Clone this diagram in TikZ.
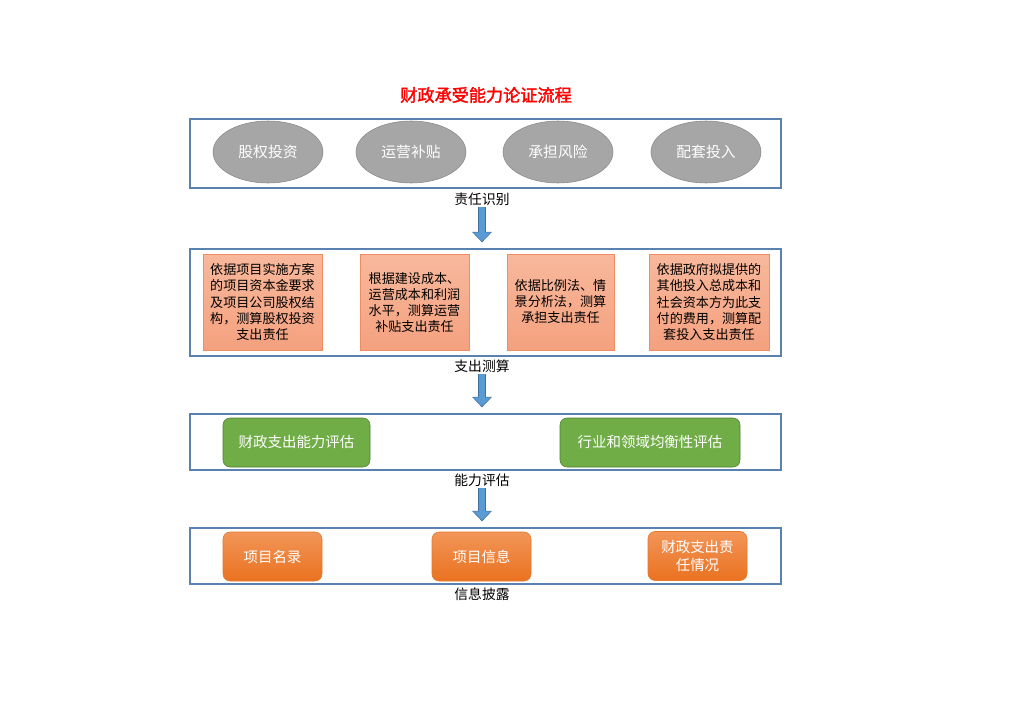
\documentclass[tikz,border=0pt]{standalone}
\usepackage{fontspec}
\setmainfont{Noto Sans CJK SC}[AutoFakeBold=2]
\usetikzlibrary{shapes.geometric,arrows.meta}
\definecolor{framec}{HTML}{5A82B0}
\definecolor{ovalfill}{HTML}{A6A6A6}
\definecolor{ovaledge}{HTML}{8A8A8A}
\definecolor{salmontop}{HTML}{F8B89C}
\definecolor{salmonbot}{HTML}{F4A17F}
\definecolor{salmonedge}{HTML}{F08C60}
\definecolor{greenfill}{HTML}{70AD47}
\definecolor{greenedge}{HTML}{4E7F30}
\definecolor{orangetop}{HTML}{F29558}
\definecolor{orangebot}{HTML}{EA7220}
\definecolor{orangeedge}{HTML}{E0782F}
\definecolor{arrowfill}{HTML}{5B9BD5}
\definecolor{arrowedge}{HTML}{41719C}
\tikzset{
  stage/.style={draw=framec, line width=0.9pt, rectangle, minimum width=14.775cm},
  duty/.style={draw=ovaledge, fill=ovalfill, ellipse, minimum width=2.75cm, minimum height=1.55cm, text=white, font=\fontsize{10.5pt}{12pt}\selectfont},
  calc/.style={draw=salmonedge, top color=salmontop, bottom color=salmonbot, rectangle, minimum height=2.4cm, align=center, inner sep=2pt, font=\fontsize{9.3pt}{11.4pt}\selectfont},
  assess/.style={draw=greenedge, fill=greenfill, rounded corners=5pt, minimum height=1.225cm, text=white, font=\fontsize{10.3pt}{12pt}\selectfont},
  disclose/.style={draw=orangeedge, top color=orangetop, bottom color=orangebot, rounded corners=5pt, minimum width=2.475cm, minimum height=1.225cm, align=center, text=white, font=\fontsize{10.3pt}{12.5pt}\selectfont},
  caption/.style={font=\fontsize{9.8pt}{11pt}\selectfont, inner sep=1pt},
  flow/.style={draw=arrowfill, line width=0.15cm, shorten >=0.18cm, -{Triangle[width=0.42cm,length=0.22cm]},
    preaction={draw=arrowedge, line width=0.19cm, shorten >=0.15cm, -{Triangle[width=0.48cm,length=0.26cm]}}}
}
\begin{document}
\begin{tikzpicture}
\useasboundingbox[fill=white] (0,0) rectangle (25.6,-18.1);
\node[text=red, font=\fontsize{12.2pt}{14pt}\selectfont\bfseries] (title) at (12.15,-2.375) {财政承受能力论证流程};

\node[stage, minimum height=1.725cm] (f1) at (12.1375,-3.8375) {};
\node[duty] (d1) at (6.7,-3.8) {股权投资};
\node[duty] (d2) at (10.275,-3.8) {运营补贴};
\node[duty] (d3) at (13.95,-3.8) {承担风险};
\node[duty] (d4) at (17.65,-3.8) {配套投入};
\node[caption] (l1) at (12.05,-4.975) {责任识别};

\node[stage, minimum height=2.675cm] (f2) at (12.1375,-7.5625) {};
\node[calc, minimum width=2.975cm] (c1) at (6.5625,-7.55) {依据项目实施方案\\的项目资本金要求\\及项目公司股权结\\构，测算股权投资\\支出责任};
\node[calc, minimum width=2.725cm] (c2) at (10.3625,-7.5625) {根据建设成本、\\运营成本和利润\\水平，测算运营\\补贴支出责任};
\node[calc, minimum width=2.675cm] (c3) at (14.0125,-7.55) {依据比例法、情\\景分析法，测算\\承担支出责任};
\node[calc, minimum width=3.0cm] (c4) at (17.725,-7.55) {依据政府拟提供的\\其他投入总成本和\\社会资本方为此支\\付的费用，测算配\\套投入支出责任};
\node[caption] (l2) at (12.05,-9.15) {支出测算};

\node[stage, minimum height=1.4cm] (f3) at (12.1375,-11.05) {};
\node[assess, minimum width=3.675cm] (a1) at (7.4125,-11.0625) {财政支出能力评估};
\node[assess, minimum width=4.5cm] (a2) at (16.25,-11.0625) {行业和领域均衡性评估};
\node[caption] (l3) at (12.05,-12.0) {能力评估};

\node[stage, minimum height=1.4cm] (f4) at (12.1375,-13.9) {};
\node[disclose] (o1) at (6.8125,-13.9125) {项目名录};
\node[disclose] (o2) at (12.0375,-13.9125) {项目信息};
\node[disclose] (o3) at (17.4375,-13.9) {财政支出责\\任情况};
\node[caption] (l4) at (12.05,-14.85) {信息披露};

\draw[flow] (l1.south) -- (l1.south |- f2.north);
\draw[flow] (l2.south) -- (l2.south |- f3.north);
\draw[flow] (l3.south) -- (l3.south |- f4.north);
\end{tikzpicture}
\end{document}
